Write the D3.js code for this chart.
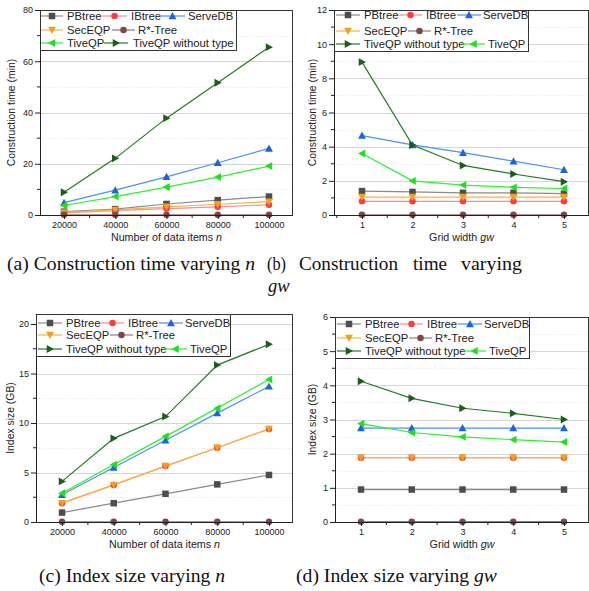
<!DOCTYPE html>
<html><head><meta charset="utf-8">
<script src="https://cdn.jsdelivr.net/npm/d3@7"></script>
<style>body{margin:0;background:#fff}svg{display:block}</style>
</head><body>
<svg id="c" width="589" height="591"></svg>
<script>
// ---------- DATA ----------
const nValues = [20000, 40000, 60000, 80000, 100000];
const gwValues = [1, 2, 3, 4, 5];
const seriesNames = ["PBtree", "IBtree", "ServeDB", "SecEQP", "R*-Tree", "TiveQP", "TiveQP without type"];

// (a) construction time (min) vs n
const aPBtree = [1.3, 2.3, 4.3, 5.8, 7.2];
const aIBtree = [0.8, 1.7, 2.5, 3.2, 4.0];
const aServeDB = [4.8, 9.7, 14.9, 20.4, 26.0];
const aSecEQP = [1.0, 2.0, 3.2, 4.2, 5.2];
const aRTree = [0.05, 0.05, 0.05, 0.05, 0.05];
const aTiveQP = [3.7, 7.2, 10.9, 14.8, 19.1];
const aTiveQPnt = [8.9, 22.1, 37.8, 51.6, 65.5];

// (b) construction time (min) vs gw
const bPBtree = [1.4, 1.35, 1.3, 1.3, 1.25];
const bIBtree = [0.8, 0.8, 0.8, 0.8, 0.8];
const bServeDB = [4.65, 4.1, 3.65, 3.15, 2.65];
const bSecEQP = [1.05, 1.05, 1.05, 1.05, 1.05];
const bRTree = [0.01, 0.01, 0.01, 0.01, 0.01];
const bTiveQP = [3.6, 2.0, 1.75, 1.62, 1.55];
const bTiveQPnt = [8.95, 4.1, 2.9, 2.4, 1.95];

// (c) index size (GB) vs n
const cPBtree = [0.95, 1.9, 2.85, 3.8, 4.75];
const cIBtree = [1.9, 3.75, 5.65, 7.5, 9.4];
const cServeDB = [2.75, 5.5, 8.25, 11.0, 13.7];
const cSecEQP = [1.9, 3.75, 5.65, 7.5, 9.4];
const cRTree = [0.02, 0.02, 0.02, 0.02, 0.02];
const cTiveQP = [2.9, 5.8, 8.65, 11.5, 14.4];
const cTiveQPnt = [4.1, 8.45, 10.65, 15.85, 17.95];

// (d) index size (GB) vs gw
const dPBtree = [0.95, 0.95, 0.95, 0.95, 0.95];
const dIBtree = [1.88, 1.88, 1.88, 1.88, 1.88];
const dServeDB = [2.75, 2.75, 2.75, 2.75, 2.75];
const dSecEQP = [1.88, 1.88, 1.88, 1.88, 1.88];
const dRTree = [0.01, 0.01, 0.01, 0.01, 0.01];
const dTiveQP = [2.88, 2.62, 2.49, 2.41, 2.34];
const dTiveQPnt = [4.12, 3.62, 3.33, 3.18, 3.0];

const aYTicks = [0, 20, 40, 60, 80];
const bYTicks = [0, 2, 4, 6, 8, 10, 12];
const cYTicks = [0, 5, 10, 15, 20];
const dYTicks = [0, 1, 2, 3, 4, 5, 6];

// ---------- STYLE ----------
const style = {
  "PBtree": {line: "#8a8a8a", mark: "#4d4d4d", shape: "square"},
  "IBtree": {line: "#ff8a8a", mark: "#ff3b3b", shape: "circle"},
  "ServeDB": {line: "#4f8ff0", mark: "#1d63e0", shape: "up"},
  "SecEQP": {line: "#f4b443", mark: "#f0a21e", shape: "down"},
  "R*-Tree": {line: "#9a7676", mark: "#7a4848", shape: "circle"},
  "TiveQP": {line: "#2ef02e", mark: "#1fe01f", shape: "left"},
  "TiveQP without type": {line: "#237a23", mark: "#1a5e1a", shape: "right"}
};

const svg = d3.select("#c");
const FONT = "Liberation Sans, Arial, sans-serif";
const fmt = d3.format("d");

function markerPath(shape, s) {
  const h = s / 2;
  switch (shape) {
    case "square": return `M${-h},${-h}H${h}V${h}H${-h}Z`;
    case "up": return `M0,${-h - 0.7}L${h + 0.7},${h}L${-h - 0.7},${h}Z`;
    case "down": return `M0,${h + 0.7}L${h + 0.7},${-h}L${-h - 0.7},${-h}Z`;
    case "left": return `M${-h - 0.7},0L${h},${-h - 0.7}L${h},${h + 0.7}Z`;
    case "right": return `M${h + 0.7},0L${-h},${-h - 0.7}L${-h},${h + 0.7}Z`;
    default: return d3.symbol(d3.symbolCircle, Math.PI * h * h)();
  }
}

function drawPanel(p) {
  const g = svg.append("g");
  const x = d3.scaleLinear().domain([p.xVals[0], p.xVals[p.xVals.length - 1]]).range(p.xRange);
  const y = d3.scaleLinear().domain([0, p.yMax]).range([p.bottom, p.yTopPx]);

  // minor grid (dotted)
  g.append("g").selectAll("line").data(p.yMinor).join("line")
    .attr("x1", p.left).attr("x2", p.right)
    .attr("y1", d => Math.round(y(d)) + 0.5).attr("y2", d => Math.round(y(d)) + 0.5)
    .attr("stroke", "#e4e4e4").attr("stroke-dasharray", "1,2").attr("stroke-width", 1);
  // major grid
  g.append("g").selectAll("line").data(p.yTicks.filter(d => d > 0)).join("line")
    .attr("x1", p.left).attr("x2", p.right)
    .attr("y1", d => Math.round(y(d)) + 0.5).attr("y2", d => Math.round(y(d)) + 0.5)
    .attr("stroke", "#d6d6d6").attr("stroke-width", 1);

  // series
  const lineGen = d3.line().x((d, i) => x(p.xVals[i])).y(d => y(d));
  p.series.forEach(s => {
    const st = style[s.name];
    g.append("path").datum(s.values).attr("d", lineGen)
      .attr("fill", "none").attr("stroke", st.line).attr("stroke-width", 1.2);
  });
  p.series.forEach(s => {
    const st = style[s.name];
    g.append("g").selectAll("path").data(s.values).join("path")
      .attr("transform", (d, i) => `translate(${x(p.xVals[i])},${y(d)})`)
      .attr("d", markerPath(st.shape, 6.5)).attr("fill", st.mark);
  });

  // axes
  const yAxis = d3.axisLeft(y).tickValues(p.yTicks).tickFormat(fmt).tickSize(5).tickSizeOuter(0).tickPadding(2);
  const ya = g.append("g").attr("transform", `translate(${p.left},0)`).call(yAxis);
  ya.select(".domain").attr("d", `M0.5,${p.top}V${p.bottom}`).attr("stroke", "#222");
  ya.selectAll(".tick line").attr("stroke", "#222");
  ya.selectAll("text").attr("font-family", FONT).attr("font-size", 9).attr("fill", "#222");
  g.append("g").attr("transform", `translate(${p.left},0)`)
    .selectAll("line").data(p.yMinor).join("line")
    .attr("x1", -3).attr("x2", 0).attr("y1", d => y(d)).attr("y2", d => y(d)).attr("stroke", "#222");

  const xAxis = d3.axisBottom(x).tickValues(p.xVals).tickFormat(fmt).tickSize(4).tickSizeOuter(0).tickPadding(3);
  const xa = g.append("g").attr("transform", `translate(0,${p.bottom})`).call(xAxis);
  xa.select(".domain").attr("d", `M${p.left},0.5H${p.right}`).attr("stroke", "#222");
  xa.selectAll(".tick line").attr("stroke", "#222");
  xa.selectAll("text").attr("font-family", FONT).attr("font-size", 9).attr("fill", "#222");
  const step = p.xVals[1] - p.xVals[0];
  const xMinor = p.xVals.slice(0, -1).map(v => v + step / 2).concat([p.xVals[0] - step / 2, p.xVals[p.xVals.length - 1] + step / 2]);
  g.append("g").attr("transform", `translate(0,${p.bottom})`)
    .selectAll("line").data(xMinor.filter(v => x(v) < p.right - 2 && x(v) > p.left + 2)).join("line")
    .attr("x1", d => x(d)).attr("x2", d => x(d)).attr("y1", 0).attr("y2", 3).attr("stroke", "#222");

  // right border and top
  g.append("line").attr("x1", p.right - 0.5).attr("x2", p.right - 0.5)
    .attr("y1", p.top).attr("y2", p.bottom).attr("stroke", "#333");
  g.append("line").attr("x1", p.left).attr("x2", p.right)
    .attr("y1", p.top + 0.5).attr("y2", p.top + 0.5).attr("stroke", "#333");

  // legend
  const L = p.legend;
  const lg = g.append("g").attr("transform", `translate(${p.left},${p.top})`);
  lg.append("rect").attr("x", 0.5).attr("y", 0.5).attr("width", L.w).attr("height", L.h)
    .attr("fill", "#fff").attr("stroke", "#333").attr("stroke-width", 1);
  L.items.forEach(it => {
    const st = style[it.name];
    const ry = L.rows[it.row];
    lg.append("line").attr("x1", it.x0).attr("x2", it.x1).attr("y1", ry).attr("y2", ry)
      .attr("stroke", st.line).attr("stroke-width", 1.2);
    lg.append("path").attr("transform", `translate(${(it.x0 + it.x1) / 2},${ry})`)
      .attr("d", markerPath(st.shape, 6.5)).attr("fill", st.mark);
    lg.append("text").attr("x", it.tx).attr("y", ry + 4).text(it.name)
      .attr("font-family", FONT).attr("font-size", 11.3).attr("fill", "#222");
  });

  // axis titles
  g.append("text").attr("transform", `translate(${p.yTitleX},${(p.top + p.bottom) / 2}) rotate(-90)`)
    .attr("text-anchor", "middle").attr("font-family", FONT).attr("font-size", 10.4).attr("fill", "#222")
    .text(p.yTitle);
  const xt = g.append("text").attr("x", (p.left + p.right) / 2).attr("y", p.xTitleY)
    .attr("text-anchor", "middle").attr("font-family", FONT).attr("font-size", 10.7).attr("fill", "#222");
  xt.append("tspan").text(p.xTitle[0]);
  xt.append("tspan").attr("font-style", "italic").text(p.xTitle[1]);
}

function mk(names, arrs) { return names.map((n, i) => ({name: n, values: arrs[i]})); }
const orderAll = ["PBtree", "IBtree", "ServeDB", "SecEQP", "R*-Tree", "TiveQP", "TiveQP without type"];

const legendA = {w: 196, h: 40, rows: [6, 20, 33], items: [
  {name: "PBtree", row: 0, x0: 1, x1: 23, tx: 27},
  {name: "IBtree", row: 0, x0: 62, x1: 87, tx: 91},
  {name: "ServeDB", row: 0, x0: 120, x1: 145, tx: 148},
  {name: "SecEQP", row: 1, x0: 1, x1: 23, tx: 27},
  {name: "R*-Tree", row: 1, x0: 72, x1: 95, tx: 98},
  {name: "TiveQP", row: 2, x0: 1, x1: 23, tx: 27},
  {name: "TiveQP without type", row: 2, x0: 64, x1: 88, tx: 93}]};
function legendB(rows, h) {
  return {w: 194, h: h, rows: rows, items: [
    {name: "PBtree", row: 0, x0: 2, x1: 26, tx: 30},
    {name: "IBtree", row: 0, x0: 65, x1: 88, tx: 92},
    {name: "ServeDB", row: 0, x0: 123, x1: 147, tx: 149},
    {name: "SecEQP", row: 1, x0: 2, x1: 26, tx: 30},
    {name: "R*-Tree", row: 1, x0: 74, x1: 97, tx: 100},
    {name: "TiveQP without type", row: 2, x0: 2, x1: 26, tx: 30},
    {name: "TiveQP", row: 2, x0: 128, x1: 151, tx: 154}]};
}

drawPanel({left: 40, right: 293, top: 10, bottom: 215, yTopPx: 10, yMax: 80,
  xVals: nValues, xRange: [64, 269], yTicks: aYTicks, yMinor: [10, 30, 50, 70],
  series: mk(orderAll, [aPBtree, aIBtree, aServeDB, aSecEQP, aRTree, aTiveQP, aTiveQPnt]),
  legend: legendA, yTitle: "Construction time (min)", yTitleX: 15, xTitle: ["Number of data items ", "n"], xTitleY: 241});
drawPanel({left: 334, right: 589, top: 10, bottom: 215, yTopPx: 10, yMax: 12,
  xVals: gwValues, xRange: [362, 564], yTicks: bYTicks, yMinor: [1, 3, 5, 7, 9, 11],
  series: mk(orderAll, [bPBtree, bIBtree, bServeDB, bSecEQP, bRTree, bTiveQP, bTiveQPnt]),
  legend: legendB([5, 21, 34], 41), yTitle: "Construction time (min)", yTitleX: 316, xTitle: ["Grid width ", "gw"], xTitleY: 241});
drawPanel({left: 36, right: 293, top: 314, bottom: 522, yTopPx: 324, yMax: 20,
  xVals: nValues, xRange: [62, 269], yTicks: cYTicks, yMinor: [2.5, 7.5, 12.5, 17.5],
  series: mk(orderAll, [cPBtree, cIBtree, cServeDB, cSecEQP, cRTree, cTiveQP, cTiveQPnt]),
  legend: legendB([9, 21, 35], 42), yTitle: "Index size (GB)", yTitleX: 14, xTitle: ["Number of data items ", "n"], xTitleY: 548});
drawPanel({left: 335, right: 589, top: 317, bottom: 522, yTopPx: 317, yMax: 6,
  xVals: gwValues, xRange: [361, 564], yTicks: dYTicks, yMinor: [0.5, 1.5, 2.5, 3.5, 4.5, 5.5],
  series: mk(orderAll, [dPBtree, dIBtree, dServeDB, dSecEQP, dRTree, dTiveQP, dTiveQPnt]),
  legend: legendB([7, 21, 34], 41), yTitle: "Index size (GB)", yTitleX: 316, xTitle: ["Grid width ", "gw"], xTitleY: 548});

// ---------- CAPTIONS ----------
const SERIF = "Liberation Serif, Times New Roman, serif";
const CAP = 18.5;
function caption(x, y, parts, len) {
  const t = svg.append("text").attr("x", x).attr("y", y).attr("font-family", SERIF)
    .attr("font-size", CAP).attr("fill", "#111");
  parts.forEach(pt => t.append("tspan").attr("font-style", pt[1] ? "italic" : null).text(pt[0]));
  if (len) t.attr("textLength", len).attr("lengthAdjust", "spacingAndGlyphs");
}
caption(7, 270, [["(a) Construction time varying ", 0], ["n", 1]], 248);
// (b) justified first line, wrapped "gw"
const bWords = [["(b)", 267, 19], ["Construction", 299, 99], ["time", 413, 34], ["varying", 461, 61]];
bWords.forEach(w => svg.append("text").attr("x", w[1]).attr("y", 270).attr("font-family", SERIF)
  .attr("font-size", CAP).attr("fill", "#111").attr("textLength", w[2])
  .attr("lengthAdjust", "spacingAndGlyphs").text(w[0]));
svg.append("text").attr("x", 268).attr("y", 292).attr("font-family", SERIF).attr("font-size", CAP)
  .attr("font-style", "italic").attr("fill", "#111").text("gw");
caption(39, 582, [["(c) Index size varying ", 0], ["n", 1]], 186);
caption(296, 582, [["(d) Index size varying ", 0], ["gw", 1]], 201);
</script>
</body></html>
